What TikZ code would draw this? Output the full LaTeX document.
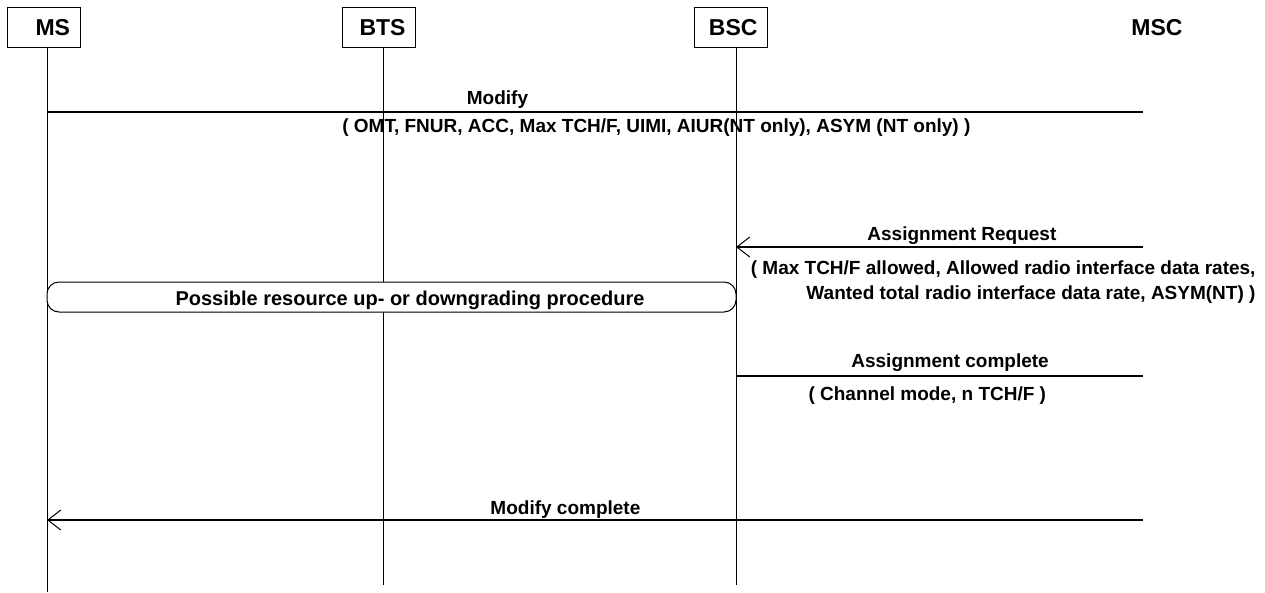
\documentclass[tikz,border=0pt]{standalone}
\usepackage{fontspec}
\setmainfont{Liberation Sans}
\usetikzlibrary{arrows.meta}

\begin{document}
\begin{tikzpicture}[x=1pt,y=-1pt,line width=1pt,
    entity/.style={draw,text width=53pt,align=right,inner xsep=10pt,inner ysep=0pt,
                   minimum height=40pt,font=\bfseries\fontsize{23}{26}\selectfont},
    msg/.style={inner sep=0pt,anchor=base,font=\bfseries\fontsize{19}{25}\selectfont},
    proc/.style={draw,fill=white,rounded corners=12pt,minimum width=689pt,minimum height=30pt},
    line/.style={line width=1.3pt},
    open tip/.style={-{Straight Barb[length=13pt,width=20pt,line width=1pt]}}]
  \useasboundingbox (0,0) rectangle (1265,592);
  %entities%
  \node[entity] (ms) at (43.5,27.7) {MS};
  \node[entity] (bts) at (379,27.7) {BTS};
  \node[entity] (bsc) at (731,27.7) {BSC};
  \node[msg,font=\bfseries\fontsize{23}{26}\selectfont] (msc) at (1157,35.5) {MSC};

  %lifelines%
  \coordinate (ms line) at ([xshift=3.5pt]ms.south);
  \coordinate (bts line) at ([xshift=4pt]bts.south);
  \coordinate (bsc line) at ([xshift=5pt]bsc.south);
  \coordinate (msc line) at (1143,48);
  \draw (ms line) -- (ms line |- 0,592);
  \draw (bts line) -- (bts line |- 0,585);
  \draw (bsc line) -- (bsc line |- 0,585);

  %messages%
  \coordinate (modify) at (msc line |- 0,112);
  \draw[line] (modify) -- (modify -| ms line)
    node[msg,pos=0.589,yshift=8pt] {Modify}
    node[msg,pos=0.444,yshift=-20pt] {( OMT, FNUR, ACC, Max TCH/F, UIMI, AIUR(NT only), ASYM (NT only) )};

  \coordinate (asg req) at (msc line |- 0,247);
  \draw[line,open tip] (asg req) -- (asg req -| bsc line)
    node[msg,pos=0.445,yshift=7pt] {Assignment Request};
  \node[msg,anchor=base east] (asg par a) at (1256,274) {( Max TCH/F allowed, Allowed radio interface data rates,};
  \node[msg,anchor=base east] (asg par b) at (1256,299) {Wanted total radio interface data rate, ASYM(NT) )};

  \node[proc] (proc) at (391.5,297) {};
  \node[msg,font=\bfseries\fontsize{20}{25}\selectfont] (proc text) at (410,305) {Possible resource up- or downgrading procedure};

  \coordinate (asg cmp) at (msc line |- 0,376);
  \draw[line] (asg cmp) -- (asg cmp -| bsc line)
    node[msg,pos=0.474,yshift=9pt] {Assignment complete}
    node[msg,pos=0.53,yshift=-24pt] {( Channel mode, n TCH/F )};

  \coordinate (mod cmp) at (msc line |- 0,520);
  \draw[line,open tip] (mod cmp) -- (mod cmp -| ms line)
    node[msg,pos=0.527,yshift=6pt] {Modify complete};
\end{tikzpicture}
\end{document}
